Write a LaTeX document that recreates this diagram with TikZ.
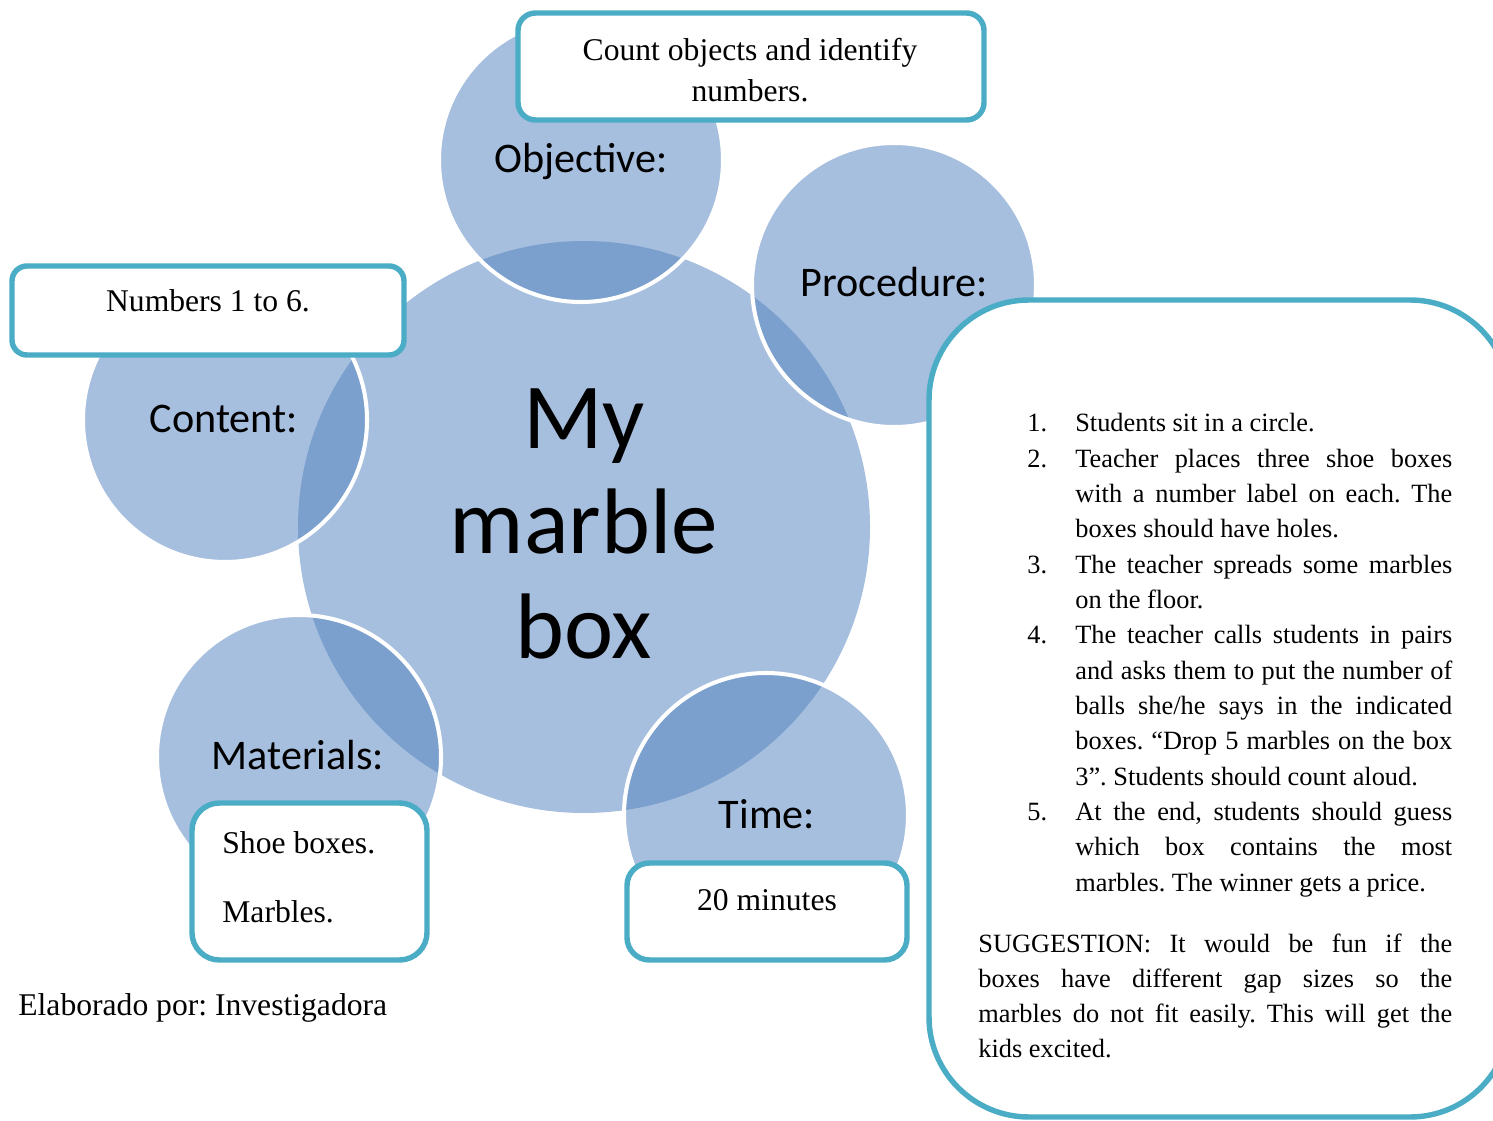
\documentclass[tikz,border=0pt]{standalone}
\usepackage{fontspec}
\setmainfont{Liberation Serif}
\newfontfamily\calibri{Carlito}
\usetikzlibrary{positioning}
\definecolor{venn}{HTML}{A7BFDE}
\definecolor{venndark}{HTML}{7BA0CD}
\definecolor{boxline}{HTML}{4BACC6}
\frenchspacing
\newcommand{\steprow}[2]{\noindent\hangindent=0.96cm\hangafter=1\makebox[0.96cm][l]{#1}#2\par}

\begin{document}
\begin{tikzpicture}[x=0.02cm,y=-0.02cm,
  rim/.style={draw=white,line width=2.3pt},
  textbox/.style={draw=boxline,fill=white,line width=3.1pt,rounded corners=#1},
  tag/.style={font=\calibri\fontsize{24}{28}\selectfont,anchor=base,inner sep=0pt},
  body/.style={font=\fontsize{18}{23.9}\selectfont,inner sep=0pt},
  steps/.style={font=\fontsize{15}{20.1}\selectfont,inner sep=0pt,align=justify,anchor=base west}]
\useasboundingbox (0,0) rectangle (1493,1121);
\clip (0,0) rectangle (1493,1121);
\coordinate (hub) at (584,527);
\coordinate (obj) at (581,160);
\coordinate (proc) at (894,285);
\coordinate (cont) at (225,420);
\coordinate (mat) at (299,757);
\coordinate (time) at (766,815);
\fill[venn] (hub) circle[radius=286];
\foreach \c in {obj,proc,cont,mat,time}{
  \fill[venn] (\c) circle[radius=142];
  \begin{scope}
    \clip (\c) circle[radius=142];
    \fill[venndark] (hub) circle[radius=286];
  \end{scope}
  \draw[rim] (\c) circle[radius=142];
}
\node[font=\calibri\fontsize{53}{59.5}\selectfont,align=center,anchor=base,inner sep=0pt] (title) at (584,658) {My\\marble\\box};
\node[tag] (objtag) at (581,173) {Objective:};
\node[tag] (proctag) at (894,297) {Procedure:};
\node[tag] (conttag) at (224,433) {Content:};
\node[tag] (mattag) at (298,769) {Materials:};
\node[tag] (timetag) at (767,828) {Time:};
\draw[textbox=0.35cm] (518,13) rectangle (984,120);
\draw[textbox=0.3cm] (12,266) rectangle (404,355);
\draw[textbox=0.55cm] (192,803) rectangle (427,960);
\draw[textbox=0.45cm] (627,863) rectangle (907,960);
\draw[textbox=2cm] (929,300) rectangle (1510,1117);
\node[body,align=center,anchor=base] (objtext) at (750,102) {Count objects and identify\\numbers.};
\node[body,anchor=base] (conttext) at (208,312) {Numbers 1 to 6.};
\node[body,font=\fontsize{18}{39.1}\selectfont,align=left,anchor=base west] (mattext) at (222,922) {Shoe boxes.\\Marbles.};
\node[body,anchor=base] (timetext) at (767,910) {20 minutes};
\node[steps,text width=8.5cm] (proclist) at (1027,432) {\hyphenpenalty=10000
\steprow{1.}{Students sit in a circle.}
\steprow{2.}{Teacher places three shoe boxes\linebreak with a number label on each. The\linebreak boxes should have holes.}
\steprow{3.}{The teacher spreads some marbles\linebreak on the floor.}
\steprow{4.}{The teacher calls students in pairs\linebreak and asks them to put the number of\linebreak balls she/he says in the indicated\linebreak boxes. “Drop 5 marbles on the box\linebreak 3”. Students should count aloud.}
\steprow{5.}{At the end, students should guess\linebreak which box contains the most\linebreak marbles. The winner gets a price.}};
\node[steps,text width=9.48cm] (hint) at (978,952) {\hyphenpenalty=10000 SUGGESTION: It would be fun if the\linebreak boxes have different gap sizes so the\linebreak marbles do not fit easily. This will get the\linebreak kids excited.};
\node[body,anchor=base west] (credit) at (18,1015) {Elaborado por: Investigadora};
\end{tikzpicture}
\end{document}
